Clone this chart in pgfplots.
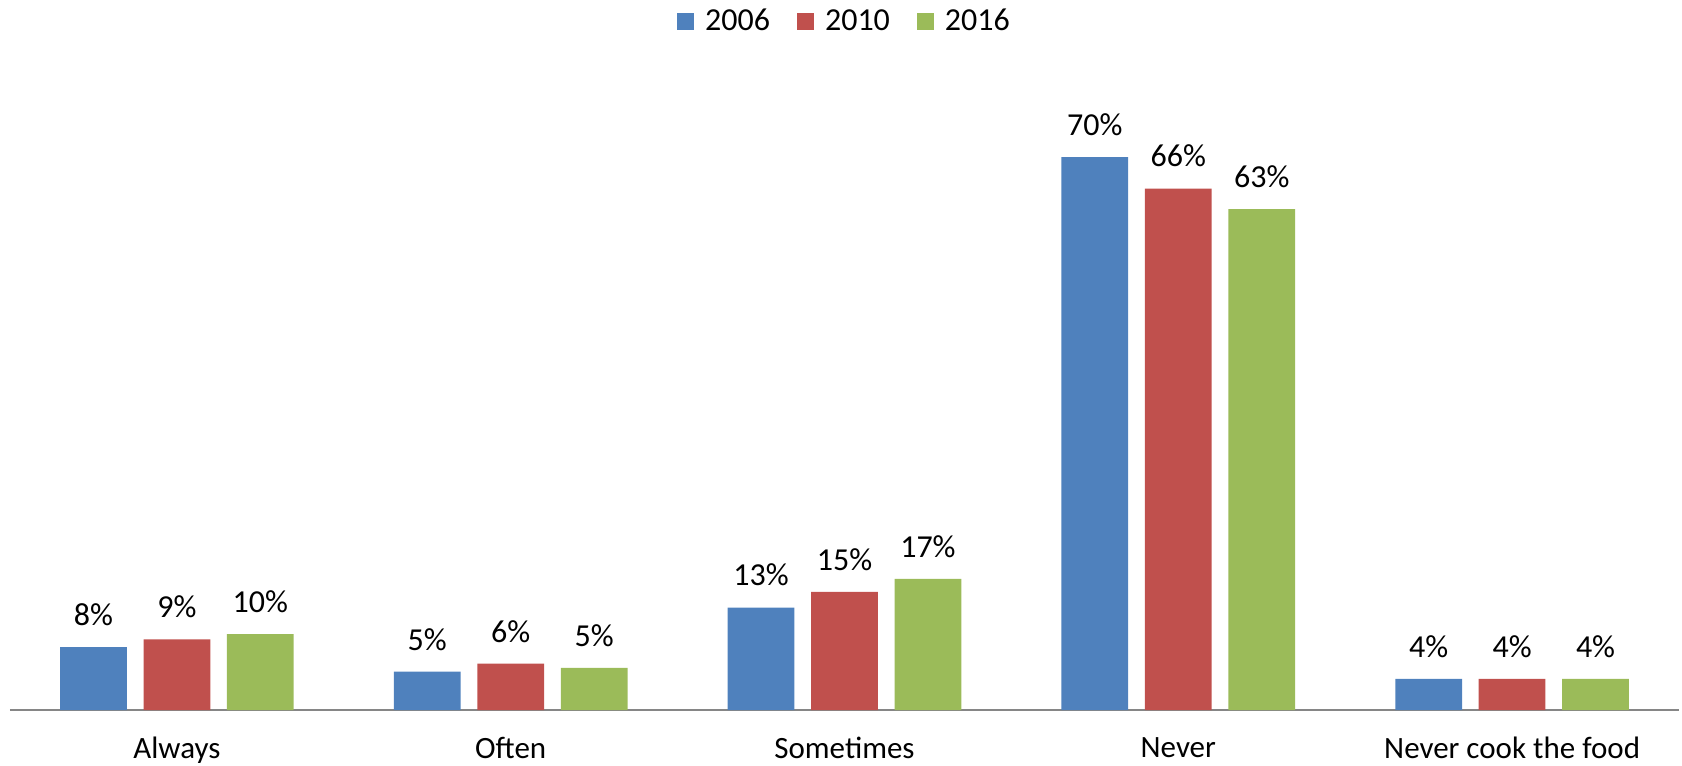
\documentclass[border=0pt]{standalone}
\usepackage{fontspec}
\setmainfont{Carlito}
\usepackage{pgfplots}
\pgfplotsset{compat=1.18}
\definecolor{cA}{HTML}{4F81BD}
\definecolor{cB}{HTML}{C0504D}
\definecolor{cC}{HTML}{9BBB59}
\definecolor{axgray}{HTML}{868686}
\newcommand{\lblfont}{\fontsize{16}{18}\selectfont}
\newcommand{\tickfont}{\fontsize{15.5}{18}\selectfont}
\begin{document}
\begin{tikzpicture}
\begin{axis}[
  scale only axis, width=834.5pt, height=316pt,
  ymin=0, ymax=80, xmin=-0.5, xmax=4.5,
  ybar, bar width=0.2,
  axis y line=none, axis x line*=bottom,
  x axis line style={draw=axgray, line width=1pt, -},
  xtick={0,1,2,3,4},
  xticklabels={Always,Often,Sometimes,Never,Never cook the food},
  major tick length=0pt,
  xticklabel style={font=\tickfont, inner sep=0pt, text depth=0pt, yshift=-13.5pt},
  nodes near coords, point meta=explicit symbolic,
  every node near coord/.append style={font=\lblfont, black, inner sep=0pt, yshift=10.5pt},
  legend style={at={(0.5,1.09)}, anchor=center, legend columns=-1, draw=none, font=\lblfont,
    inner sep=0pt, nodes={inner sep=1pt},
    /tikz/every odd column/.append style={column sep=4.5pt},
    /tikz/every even column/.append style={column sep=12.5pt}},
  legend image code/.code={\path[#1] (0pt,-4.25pt) rectangle (8.5pt,4.25pt);},
  clip=false,
]
\addplot[fill=cA, draw=none, bar shift=-0.25] coordinates {(0,7.95)[8\%] (1,4.85)[5\%] (2,12.96)[13\%] (3,70)[70\%] (4,3.93)[4\%]};
\addplot[fill=cB, draw=none, bar shift=0] coordinates {(0,8.95)[9\%] (1,5.86)[6\%] (2,14.94)[15\%] (3,66.0)[66\%] (4,3.93)[4\%]};
\addplot[fill=cC, draw=none, bar shift=0.25] coordinates {(0,9.6)[10\%] (1,5.32)[5\%] (2,16.6)[17\%] (3,63.4)[63\%] (4,3.93)[4\%]};
\legend{2006,2010,2016}
\end{axis}
\path (current axis.south west) ++(-5pt,-28pt) rectangle ++(841pt,383pt);
\end{tikzpicture}
\end{document}
